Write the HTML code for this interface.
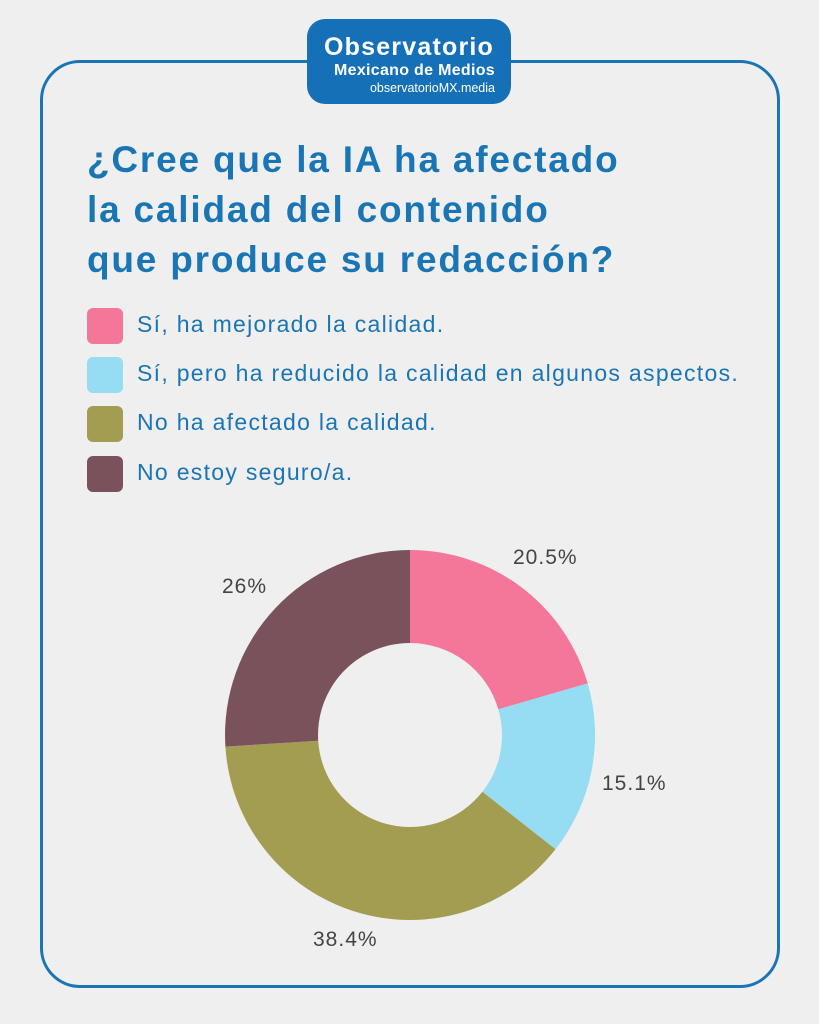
<!DOCTYPE html>
<html><head><meta charset="utf-8"><style>
body{margin:0;width:819px;height:1024px;background:#efefef;position:relative;overflow:hidden;font-family:"Liberation Sans",sans-serif}
.frame{position:absolute;left:40px;top:60px;width:734px;height:922px;border:3px solid #1a75b7;border-radius:40px}
.logo{position:absolute;left:307px;top:19px;width:204px;height:85px;background:#1570b8;border-radius:18px;color:#fff;text-align:right}
.logo .a{position:absolute;left:0;right:0;top:14px;font-size:25px;font-weight:bold;text-align:center;letter-spacing:1.2px}
.logo .b{position:absolute;right:16px;top:43px;font-size:16px;font-weight:bold;letter-spacing:0.3px}
.logo .c{position:absolute;right:16px;top:62px;font-size:12.5px}
h1{position:absolute;left:87px;top:135px;margin:0;font-size:37px;line-height:50px;color:#1a75b5;font-weight:bold;letter-spacing:1.8px;white-space:nowrap}
.leg{position:absolute;left:87px;font-size:23px;color:#1a75b5;letter-spacing:1.3px;white-space:nowrap}
.leg span{display:inline-block;width:36px;height:36px;border-radius:6px;vertical-align:middle;margin-right:14px}
.lbl{position:absolute;font-size:21px;color:#444;letter-spacing:1px}
</style></head><body>
<div class="frame"></div>
<div class="logo"><div class="a">Observatorio</div><div class="b">Mexicano de Medios</div><div class="c">observatorioMX.media</div></div>
<h1>¿Cree que la IA ha afectado<br>la calidad del contenido<br>que produce su redacción?</h1>
<div class="leg" style="top:308px"><span style="background:#f4779a"></span>Sí, ha mejorado la calidad.</div>
<div class="leg" style="top:357px"><span style="background:#96dcf3"></span>Sí, pero ha reducido la calidad en algunos aspectos.</div>
<div class="leg" style="top:406px"><span style="background:#a39d52"></span>No ha afectado la calidad.</div>
<div class="leg" style="top:456px"><span style="background:#7a525c"></span>No estoy seguro/a.</div>
<svg width="819" height="1024" style="position:absolute;left:0;top:0">
<path d="M410,550 A185,185 0 0 1 587.7,683.4 L498.3,709.3 A92,92 0 0 0 410,643Z" fill="#f4779a"/>
<path d="M587.7,683.4 A185,185 0 0 1 555.5,849.3 L482.4,791.8 A92,92 0 0 0 498.3,709.3Z" fill="#96dcf3"/>
<path d="M555.5,849.3 A185,185 0 0 1 225.4,746.6 L318.2,740.8 A92,92 0 0 0 482.4,791.8Z" fill="#a39d52"/>
<path d="M225.4,746.6 A185,185 0 0 1 410,550 L410,643 A92,92 0 0 0 318.2,740.8Z" fill="#7a525c"/>
</svg>
<div class="lbl" style="left:513px;top:546px">20.5%</div>
<div class="lbl" style="left:602px;top:772px">15.1%</div>
<div class="lbl" style="left:313px;top:928px">38.4%</div>
<div class="lbl" style="left:222px;top:575px">26%</div>
</body></html>
